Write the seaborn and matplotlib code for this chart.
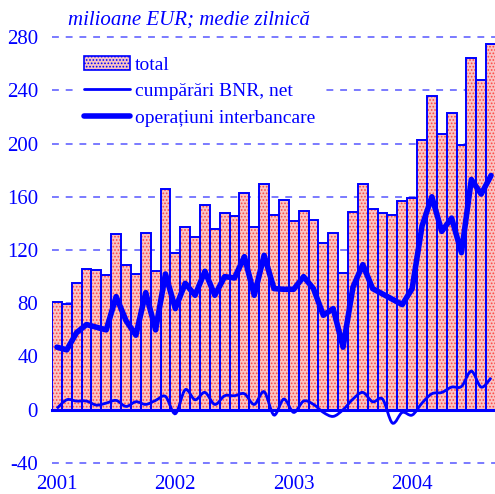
import numpy as np
import pandas as pd
import matplotlib
matplotlib.use('Agg')
import matplotlib.pyplot as plt
from matplotlib.path import Path
from matplotlib.patches import PathPatch, Patch
from matplotlib.lines import Line2D
import seaborn as sns

# monthly values, Jan 2001 - Sep 2004
years = ['2001', '2002', '2003', '2004']
total = [81, 79.5, 95.5, 106, 105, 101, 132, 109, 102, 133, 104, 165.5,
         118, 137.5, 130, 154, 136, 148, 145.5, 162.5, 137, 169.5, 146.5, 157.5,
         142, 149, 142.5, 125, 133, 102.5, 148.5, 169.5, 151, 148, 146.5, 156.5,
         159, 202.5, 235.5, 207.5, 223, 199, 264, 247.5, 275]
bnr = [1, 7.5, 6.5, 6.5, 3.5, 5, 7, 2.5, 6, 4, 7, 10,
       -3, 15, 7.5, 13, 4, 10.5, 10.5, 12, 4, 13.5, -4, 8,
       -2, 6.5, 4, -2, -5, 0, 8, 13, 6, 8, -10, -2,
       -4, 5, 12, 13, 17, 17.5, 29, 17, 24]
interbank = [47, 45, 58, 64, 62, 60, 85, 67, 56, 88, 60, 102,
             76, 95, 86, 104, 86, 100, 99, 115, 86, 116, 91, 90.5,
             90.5, 100, 91, 71, 76, 47, 92, 109, 91, 87, 83, 79,
             91, 138, 160, 134, 144, 118, 173, 162, 176]
labels = ['total', 'cumpărări BNR, net', 'operațiuni interbancare']

blue = '#0000ff'
pink = '#f9c4c4'
fs = 15

sns.set_style('white')
plt.rcParams['font.family'] = ['Liberation Serif', 'DejaVu Serif']
plt.rcParams['hatch.color'] = '#ff4545'
plt.rcParams['hatch.linewidth'] = 0.8

df = pd.DataFrame({'m': np.arange(len(total)), 'total': total,
                   'bnr': bnr, 'inter': interbank})

fig = plt.figure(figsize=(4.95, 4.94), dpi=100)
ax = fig.add_axes([52/495, 0.0601, 444/495, 0.8676])

# bars: dotted pink fill, then blue outline
sns.barplot(data=df, x='m', y='total', width=1, color=pink, edgecolor='#ff4545',
            linewidth=0, saturation=1, ax=ax)
for p in ax.patches:
    p.set_hatch('.....')
sns.barplot(data=df, x='m', y='total', width=1, color=blue, fill=False,
            linewidth=1.4, ax=ax)

# thin smoothed line (cumpărări BNR, net)
x = df['m'].to_numpy(float)
y = df['bnr'].to_numpy(float)
xp = np.r_[x[0], x, x[-1]]
yp = np.r_[y[0], y, y[-1]]
verts = [(x[0], y[0])]
codes = [Path.MOVETO]
for i in range(len(x) - 1):
    c1 = (xp[i+1] + (xp[i+2] - xp[i]) / 6, yp[i+1] + (yp[i+2] - yp[i]) / 6)
    c2 = (xp[i+2] - (xp[i+3] - xp[i+1]) / 6, yp[i+2] - (yp[i+3] - yp[i+1]) / 6)
    verts += [c1, c2, (x[i+1], y[i+1])]
    codes += [Path.CURVE4] * 3
ax.add_patch(PathPatch(Path(verts, codes), facecolor='none', edgecolor=blue,
                       lw=2, zorder=4))

# thick line (operațiuni interbancare)
sns.lineplot(data=df, x='m', y='inter', color=blue, lw=4, ax=ax, zorder=5)

ax.set_xlim(-0.5, len(total) - 0.5)
ax.set_ylim(-41, 281)
ax.set_yticks(np.arange(-40, 281, 40))
ax.set_yticklabels([str(v) for v in range(-40, 281, 40)])
ax.set_xticks([0, 12, 24, 36])
ax.set_xticklabels(years)
ax.set_xticks([-0.5, 11.5, 23.5, 35.5], minor=True)
ax.set_xlabel('')
ax.set_ylabel('')

for s in ['left', 'right', 'top']:
    ax.spines[s].set_visible(False)
ax.spines['bottom'].set_position(('data', 0))
ax.spines['bottom'].set_color(blue)
ax.spines['bottom'].set_linewidth(2.2)
ax.spines['bottom'].set_zorder(6)

ax.tick_params(axis='y', length=0, pad=10, labelsize=fs, labelcolor=blue)
ax.tick_params(axis='x', which='major', length=0, pad=47, labelsize=fs, labelcolor=blue)
ax.tick_params(axis='x', which='minor', length=5, width=1.5, color=blue, direction='out')

ax.set_axisbelow(True)
ax.yaxis.grid(True, linestyle=(0, (3.8, 3.8)), color='#7070ff', lw=1.3)
ax.xaxis.grid(False)

fig.text(68/495, 1 - 20/494, 'milioane EUR; medie zilnică', style='italic',
         color=blue, fontsize=fs, va='center', ha='left')

handles = [Patch(facecolor=pink, edgecolor=blue, hatch='.....', lw=1.2),
           Line2D([], [], color=blue, lw=2),
           Line2D([], [], color=blue, lw=4)]
leg = ax.legend(handles, labels, loc='upper left', bbox_to_anchor=(78/495, 1 - 50/494),
                bbox_transform=fig.transFigure, frameon=True, fontsize=14,
                handlelength=2.35, handletextpad=0.27, borderpad=0.32, borderaxespad=0,
                labelspacing=0.45, fancybox=False)
leg.get_frame().set_facecolor('white')
leg.get_frame().set_edgecolor('none')
leg.get_frame().set_alpha(1)
for t in leg.get_texts():
    t.set_color(blue)

fig.savefig('out.png', dpi=100)
